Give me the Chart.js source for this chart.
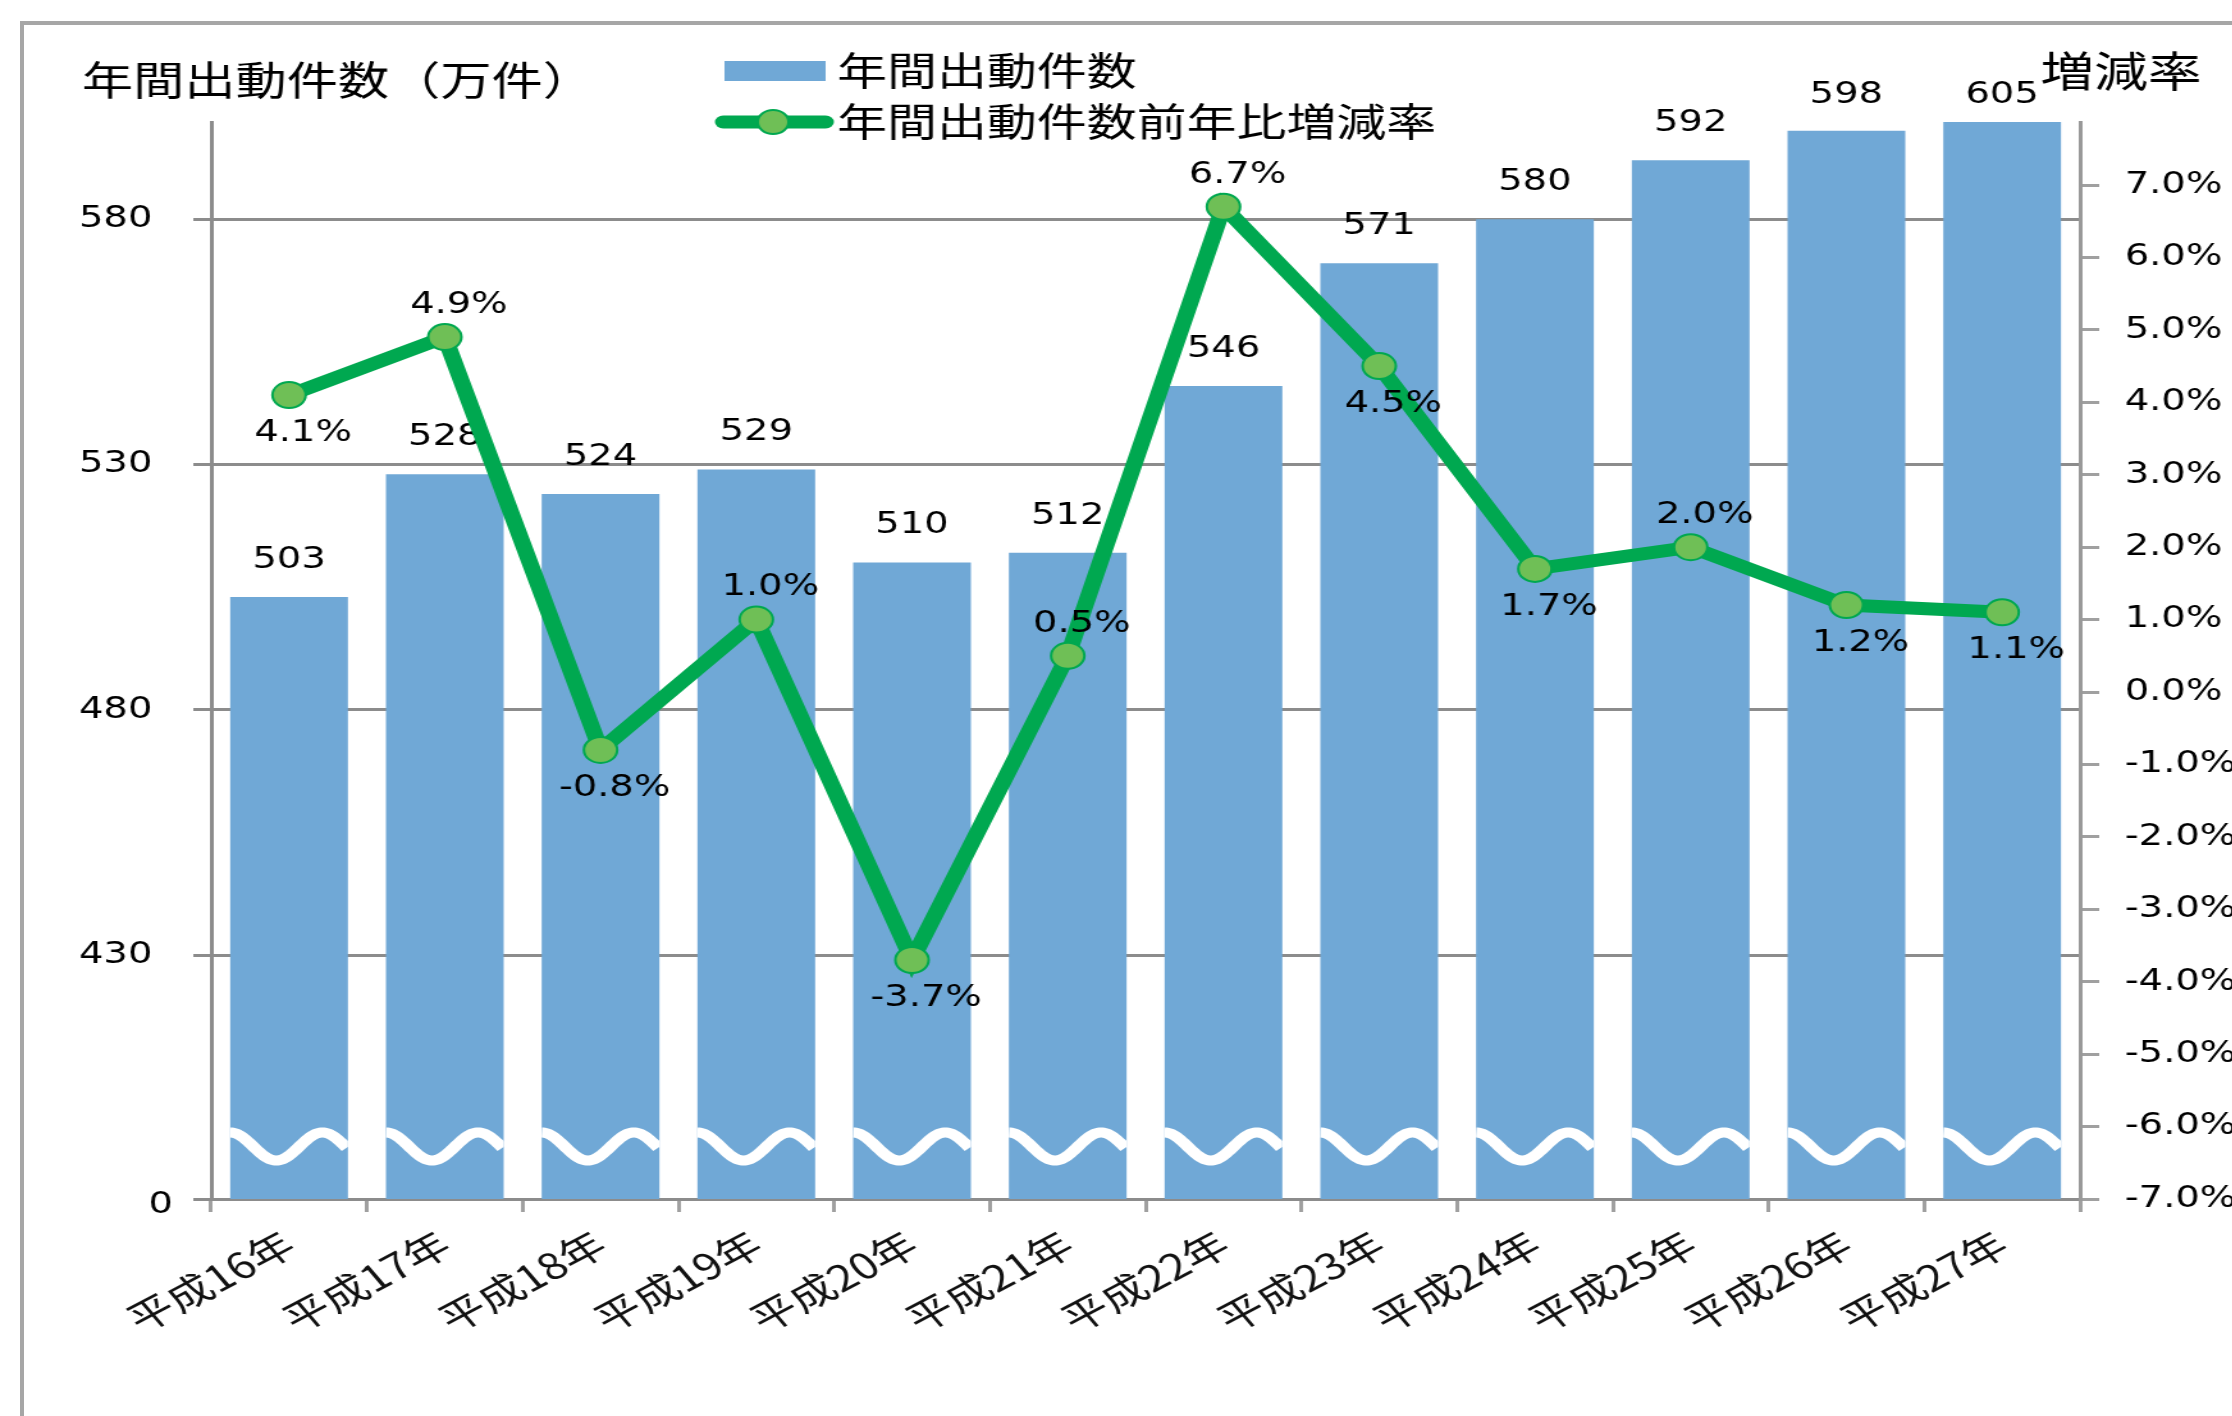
<!DOCTYPE html>
<html lang="ja">
<head>
<meta charset="utf-8">
<title>年間出動件数</title>
<script src="https://cdn.jsdelivr.net/npm/chart.js@4.4.1/dist/chart.umd.min.js"></script>
<style>
  html, body { margin: 0; padding: 0; background: #fff; overflow: hidden; }
  #frame { position: absolute; left: 20px; top: 21px; width: 2400px; height: 1600px;
           border-left: 4px solid #a6a6a6; border-top: 4px solid #a6a6a6; }
  /* the source picture is stretched sideways, so the whole chart is drawn narrow and widened */
  #stretch { position: absolute; left: 0; top: 0; width: 1744px; height: 1416px;
             transform: scaleX(1.28); transform-origin: 0 0; }
</style>
</head>
<body>
<div id="frame"></div>
<div id="stretch"><canvas id="chart"></canvas></div>
<script>
const years = ['平成16年', '平成17年', '平成18年', '平成19年', '平成20年', '平成21年',
               '平成22年', '平成23年', '平成24年', '平成25年', '平成26年', '平成27年'];
const calls = [503, 528, 524, 529, 510, 512, 546, 571, 580, 592, 598, 605];   // 万件
const rates = [4.1, 4.9, -0.8, 1.0, -3.7, 0.5, 6.7, 4.5, 1.7, 2.0, 1.2, 1.1]; // %
const callTicks = [430, 480, 530, 580];
const rateTicks = [-7, -6, -5, -4, -3, -2, -1, 0, 1, 2, 3, 4, 5, 6, 7];

// left axis is broken: its bottom is shown as 0
const callMin = 380.3;
const callMax = 599.8;
const waveAt = 391;

const barColor = '#70a8d6';
const lineColor = '#00a850';
const pointColor = '#6fbf56';
const numFont = '30px "DejaVu Sans"';

const decor = {
  id: 'decor',
  afterDatasetDraw(chart, args) {
    if (args.index !== 1) return;
    const ctx = chart.ctx;
    const area = chart.chartArea;
    const waveY = chart.scales.y.getPixelForValue(waveAt);
    ctx.save();
    // white wavy break mark on every bar
    ctx.strokeStyle = '#fff';
    ctx.lineWidth = 10;
    args.meta.data.forEach(bar => {
      const left = bar.x - bar.width / 2;
      const right = bar.x + bar.width / 2;
      ctx.save();
      ctx.beginPath();
      ctx.rect(left, waveY - 40, bar.width, 80);
      ctx.clip();
      ctx.beginPath();
      for (let x = left; x <= right; x++) {
        const yy = waveY - 14 * Math.cos((x - left) / 72 * 2 * Math.PI);
        if (x === left) ctx.moveTo(x, yy); else ctx.lineTo(x, yy);
      }
      ctx.stroke();
      ctx.restore();
    });
    // bar values
    ctx.fillStyle = '#000';
    ctx.font = numFont;
    ctx.textAlign = 'center';
    ctx.textBaseline = 'middle';
    args.meta.data.forEach((bar, i) => {
      ctx.fillText(String(calls[i]), bar.x, Math.max(bar.y - 37, area.top - 27));
    });
    ctx.restore();
  },
  afterDatasetsDraw(chart) {
    const ctx = chart.ctx;
    const area = chart.chartArea;
    ctx.save();
    ctx.fillStyle = '#000';
    ctx.font = numFont;
    ctx.textAlign = 'center';
    ctx.textBaseline = 'middle';
    chart.getDatasetMeta(0).data.forEach((pt, i) => {
      const up = i > 0 && rates[i] > rates[i - 1];
      ctx.fillText(rates[i].toFixed(1) + '%', pt.x + 11, pt.y + (up ? -32 : 38));
    });
    ctx.textAlign = 'right';
    ctx.fillText('0', area.left - 30, area.bottom + 6);

    // titles
    ctx.textAlign = 'left';
    ctx.font = '40px "Noto Sans CJK JP"';
    ctx.fillText('年間出動件数（万件）', 64, 80);
    ctx.font = '42px "Noto Sans CJK JP"';
    ctx.fillText('増減率', 1594, 71);

    // legend
    ctx.font = '39px "Noto Sans CJK JP"';
    ctx.fillStyle = barColor;
    ctx.fillRect(566, 61, 79, 20);
    ctx.fillStyle = '#000';
    ctx.fillText('年間出動件数', 654, 70);
    ctx.strokeStyle = lineColor;
    ctx.lineWidth = 13;
    ctx.lineCap = 'round';
    ctx.beginPath();
    ctx.moveTo(565, 122);
    ctx.lineTo(645, 122);
    ctx.stroke();
    ctx.beginPath();
    ctx.arc(604, 122, 12, 0, 2 * Math.PI);
    ctx.fillStyle = pointColor;
    ctx.fill();
    ctx.lineWidth = 2;
    ctx.stroke();
    ctx.fillStyle = '#000';
    ctx.fillText('年間出動件数前年比増減率', 654, 121);
    ctx.restore();
  }
};

new Chart(document.getElementById('chart'), {
  data: {
    labels: years,
    datasets: [{
      type: 'line',
      label: '年間出動件数前年比増減率',
      data: rates,
      yAxisID: 'y1',
      borderColor: lineColor,
      borderWidth: 13,
      pointRadius: 13,
      pointBackgroundColor: pointColor,
      pointBorderColor: lineColor,
      pointBorderWidth: 2,
      order: 1
    }, {
      type: 'bar',
      label: '年間出動件数',
      data: calls,
      yAxisID: 'y',
      backgroundColor: barColor,
      categoryPercentage: 0.756,
      barPercentage: 1,
      order: 2
    }]
  },
  options: {
    responsive: true,
    maintainAspectRatio: false,
    animation: false,
    layout: { padding: { top: 122, left: 0, right: 0, bottom: 0 } },
    plugins: { legend: { display: false }, tooltip: { enabled: false } },
    scales: {
      x: {
        offset: true,
        grid: { offset: true, drawOnChartArea: false, color: '#a0a0a0', lineWidth: 3, tickLength: 13 },
        border: { color: '#8c8c8c', width: 3 },
        ticks: {
          minRotation: 34, maxRotation: 34, padding: 10, color: '#111',
          font: { family: 'Noto Sans CJK JP', size: 36 }
        },
        afterFit: s => { s.height = 217; }
      },
      y: {
        position: 'left',
        min: callMin,
        max: callMax,
        afterBuildTicks: s => { s.ticks = [callMin].concat(callTicks).map(v => ({ value: v })); },
        grid: { color: '#8c8c8c', lineWidth: 3, tickLength: 14 },
        border: { color: '#8c8c8c', width: 3 },
        ticks: {
          padding: 32, color: '#000', font: { family: 'DejaVu Sans', size: 30 },
          callback: v => v === callMin ? '' : String(v)
        },
        afterFit: s => { s.width = 165; }
      },
      y1: {
        position: 'right',
        min: -7,
        max: 7.87,
        afterBuildTicks: s => { s.ticks = rateTicks.map(v => ({ value: v })); },
        grid: { drawOnChartArea: false, color: '#a0a0a0', lineWidth: 3, tickLength: 15 },
        border: { color: '#999999', width: 3 },
        ticks: {
          padding: 20, color: '#000', font: { family: 'DejaVu Sans', size: 30 },
          callback: v => v.toFixed(1) + '%'
        },
        afterFit: s => { s.width = 119; }
      }
    }
  },
  plugins: [decor]
});
</script>
</body>
</html>
